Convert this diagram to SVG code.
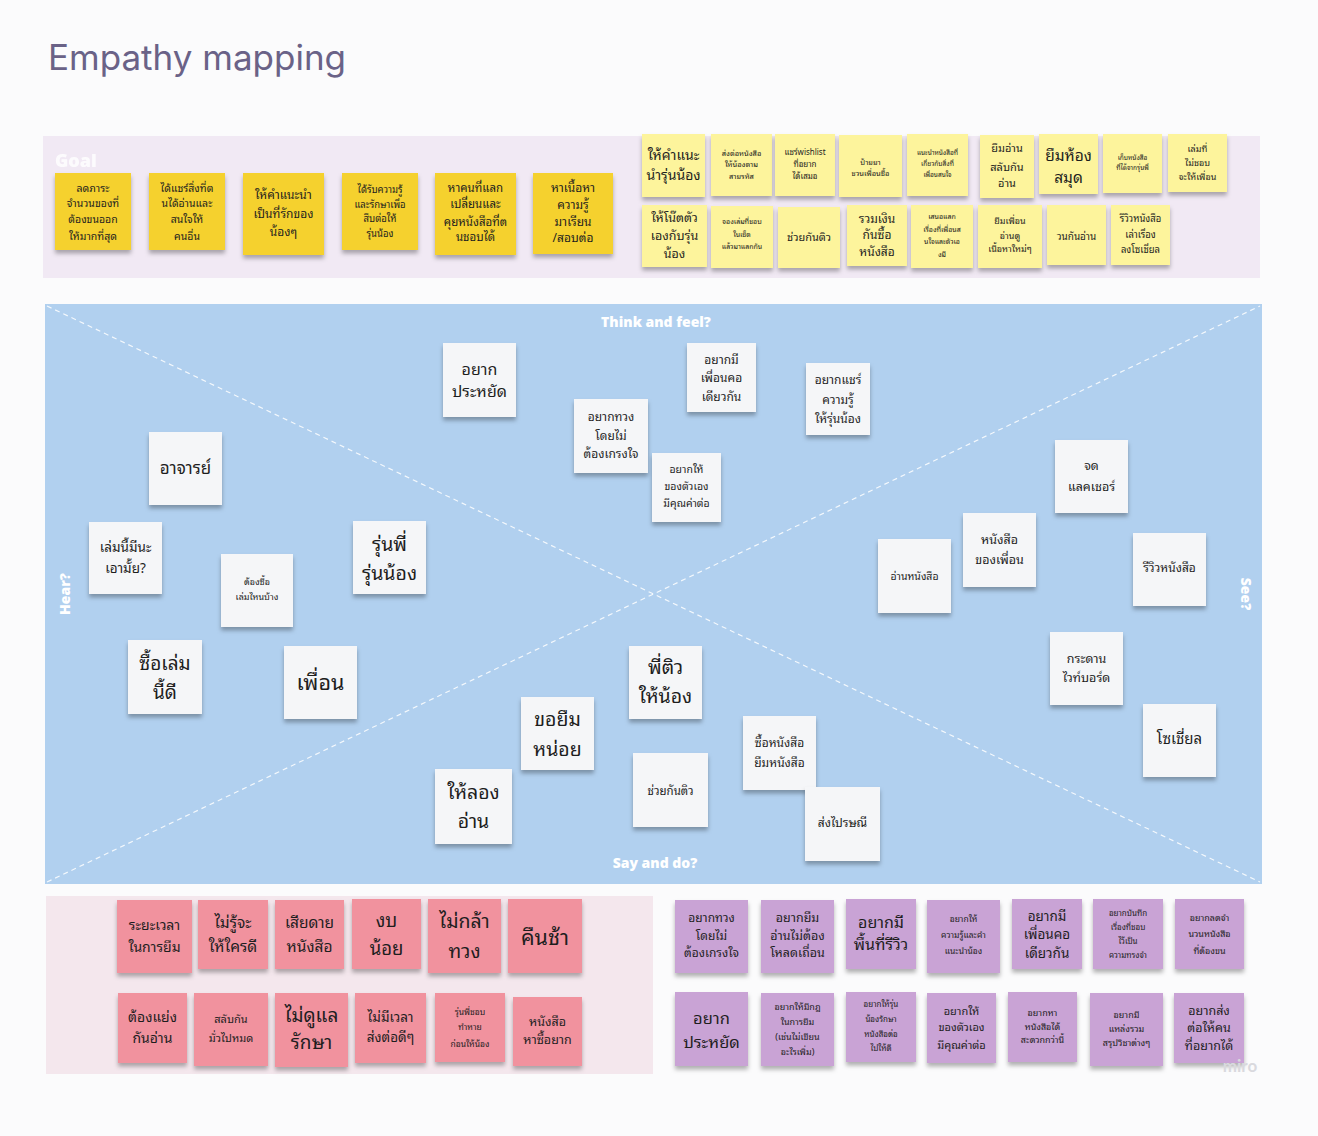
<svg xmlns="http://www.w3.org/2000/svg" width="1318" height="1136" viewBox="0 0 1318 1136">
<defs>
<filter id="sh" x="-20%" y="-20%" width="140%" height="150%">
<feDropShadow dx="0" dy="3.5" stdDeviation="2" flood-color="#000" flood-opacity="0.3"/>
</filter>
</defs>
<style>
text{font-family:"Noto Sans Thai Looped","Tahoma","Loma","Garuda","Waree","Noto Sans Thai","Noto Sans","DejaVu Sans",sans-serif;fill:#1e1e1e;text-anchor:middle}
.title{font-family:"Inter","Noto Sans",sans-serif;font-size:35px;fill:#6a6287;text-anchor:start}
.lbl{font-family:"Open Sans","Noto Sans",sans-serif;font-weight:800;fill:#ffffff;font-size:14px}
.gy{fill:#f5d12e;filter:url(#sh)}
.ly{fill:#fdf49c;filter:url(#sh)}
.wh{fill:#f5f6f8;filter:url(#sh)}
.pk{fill:#f1929e;filter:url(#sh)}
.pu{fill:#c9a3d5;filter:url(#sh)}
.dash{stroke:#ffffff;stroke-width:1.2;stroke-dasharray:5 4;fill:none;opacity:0.85}
</style>
<rect x="0" y="0" width="1318" height="1136" fill="#fbfbfc"/>
<text class="title" x="48" y="70">Empathy mapping</text>

<g id="goal-panel">
<rect x="43" y="136" width="1217" height="142" fill="#f1e9f4"/>
<text class="lbl" x="55" y="167" style="text-anchor:start;font-size:18px;opacity:0.85">Goal</text>
</g>

<g id="goal-1"><rect class="gy" x="55" y="173" width="76" height="77"/><text font-size="10.5"><tspan x="93" y="192">ลดภาระ</tspan><tspan x="93" y="207">จำนวนของที่</tspan><tspan x="93" y="223">ต้องขนออก</tspan><tspan x="93" y="240">ให้มากที่สุด</tspan></text></g>
<g id="goal-2"><rect class="gy" x="149" y="173" width="76" height="77"/><text font-size="10.5"><tspan x="187" y="192">ได้แชร์สิ่งที่ต</tspan><tspan x="187" y="207">นได้อ่านและ</tspan><tspan x="187" y="223">สนใจให้</tspan><tspan x="187" y="240">คนอื่น</tspan></text></g>
<g id="goal-3"><rect class="gy" x="243" y="173" width="81" height="82"/><text font-size="12"><tspan x="283.5" y="199">ให้คำแนะนำ</tspan><tspan x="283.5" y="218">เป็นที่รักของ</tspan><tspan x="283.5" y="236">น้องๆ</tspan></text></g>
<g id="goal-4"><rect class="gy" x="342" y="173" width="76" height="77"/><text font-size="9.5"><tspan x="380" y="193">ได้รับความรู้</tspan><tspan x="380" y="208">และรักษาเพื่อ</tspan><tspan x="380" y="222">สืบต่อให้</tspan><tspan x="380" y="237">รุ่นน้อง</tspan></text></g>
<g id="goal-5"><rect class="gy" x="435" y="173" width="81" height="82"/><text font-size="11.5"><tspan x="475.5" y="192">หาคนที่แลก</tspan><tspan x="475.5" y="208">เปลี่ยนและ</tspan><tspan x="475.5" y="226">คุยหนังสือที่ต</tspan><tspan x="475.5" y="241">นชอบได้</tspan></text></g>
<g id="goal-6"><rect class="gy" x="533" y="173" width="80" height="81"/><text font-size="12"><tspan x="573" y="192">หาเนื้อหา</tspan><tspan x="573" y="209">ความรู้</tspan><tspan x="573" y="226">มาเรียน</tspan><tspan x="573" y="242">/สอบต่อ</tspan></text></g>

<g id="idea-1"><rect class="ly" x="642" y="134" width="63" height="63"/><text font-size="14"><tspan x="673.5" y="160">ให้คำแนะ</tspan><tspan x="673.5" y="180">นำรุ่นน้อง</tspan></text></g>
<g id="idea-2"><rect class="ly" x="711" y="134" width="61" height="62"/><text font-size="7.5"><tspan x="741.5" y="156">ส่งต่อหนังสือ</tspan><tspan x="741.5" y="167">ให้น้องตาม</tspan><tspan x="741.5" y="179">สายรหัส</tspan></text></g>
<g id="idea-3"><rect class="ly" x="775" y="134" width="60" height="62"/><text font-size="8"><tspan x="805" y="155">แชร์wishlist</tspan><tspan x="805" y="167">ที่อยาก</tspan><tspan x="805" y="179">ได้เสมอ</tspan></text></g>
<g id="idea-4"><rect class="ly" x="839" y="135" width="63" height="62"/><text font-size="7.5"><tspan x="870.5" y="165">ป้ายยา</tspan><tspan x="870.5" y="176">ชวนเพื่อนซื้อ</tspan></text></g>
<g id="idea-5"><rect class="ly" x="907" y="134" width="61" height="62"/><text font-size="6.5"><tspan x="937.5" y="155">แนะนำหนังสือที่</tspan><tspan x="937.5" y="166">เกี่ยวกับสิ่งที่</tspan><tspan x="937.5" y="177">เพื่อนสนใจ</tspan></text></g>
<g id="idea-6"><rect class="ly" x="980" y="135" width="54" height="63"/><text font-size="11"><tspan x="1007" y="152">ยืมอ่าน</tspan><tspan x="1007" y="171">สลับกัน</tspan><tspan x="1007" y="187">อ่าน</tspan></text></g>
<g id="idea-7"><rect class="ly" x="1039" y="134" width="59" height="60"/><text font-size="15.5"><tspan x="1068.5" y="161">ยืมห้อง</tspan><tspan x="1068.5" y="183">สมุด</tspan></text></g>
<g id="idea-8"><rect class="ly" x="1103" y="134" width="59" height="59"/><text font-size="6.5"><tspan x="1132.5" y="160">เก็บหนังสือ</tspan><tspan x="1132.5" y="170">ที่ได้จากรุ่นพี่</tspan></text></g>
<g id="idea-9"><rect class="ly" x="1168" y="134" width="59" height="58"/><text font-size="9"><tspan x="1197.5" y="152">เล่มที่</tspan><tspan x="1197.5" y="166">ไม่ชอบ</tspan><tspan x="1197.5" y="180">จะให้เพื่อน</tspan></text></g>
<g id="idea-10"><rect class="ly" x="642" y="205" width="65" height="62"/><text font-size="12.5"><tspan x="674.5" y="222">ให้โน๊ตตัว</tspan><tspan x="674.5" y="240">เองกับรุ่น</tspan><tspan x="674.5" y="258">น้อง</tspan></text></g>
<g id="idea-11"><rect class="ly" x="711" y="206" width="62" height="62"/><text font-size="7"><tspan x="742" y="224">จองเล่มที่ชอบ</tspan><tspan x="742" y="236.5">ในเซ็ต</tspan><tspan x="742" y="249">แล้วมาแลกกัน</tspan></text></g>
<g id="idea-12"><rect class="ly" x="778" y="207" width="62" height="61"/><text font-size="11"><tspan x="809" y="241">ช่วยกันติว</tspan></text></g>
<g id="idea-13"><rect class="ly" x="847" y="205" width="60" height="61"/><text font-size="12"><tspan x="877" y="223">รวมเงิน</tspan><tspan x="877" y="239">กันซื้อ</tspan><tspan x="877" y="256">หนังสือ</tspan></text></g>
<g id="idea-14"><rect class="ly" x="911" y="205" width="62" height="63"/><text font-size="7"><tspan x="942" y="219">เสนอแลก</tspan><tspan x="942" y="232">เรื่องที่เพื่อนส</tspan><tspan x="942" y="244">นใจและตัวเอ</tspan><tspan x="942" y="257">งมี</tspan></text></g>
<g id="idea-15"><rect class="ly" x="978" y="205" width="64" height="63"/><text font-size="9"><tspan x="1010" y="224">ยืมเพื่อน</tspan><tspan x="1010" y="239">อ่านดู</tspan><tspan x="1010" y="252">เนื้อหาใหม่ๆ</tspan></text></g>
<g id="idea-16"><rect class="ly" x="1047" y="205" width="59" height="60"/><text font-size="10"><tspan x="1076.5" y="239.5">วนกันอ่าน</tspan></text></g>
<g id="idea-17"><rect class="ly" x="1111" y="205" width="59" height="60"/><text font-size="9.5"><tspan x="1140.5" y="222">รีวิวหนังสือ</tspan><tspan x="1140.5" y="238">เล่าเรื่อง</tspan><tspan x="1140.5" y="253">ลงโซเชี่ยล</tspan></text></g>

<g id="map-panel">
<rect x="45" y="304" width="1217" height="580" fill="#b1d0ef"/>
<line class="dash" x1="47" y1="306" x2="1260" y2="882"/>
<line class="dash" x1="47" y1="882" x2="1260" y2="306"/>
<text class="lbl" x="656" y="327">Think and feel?</text>
<text class="lbl" x="655" y="868">Say and do?</text>
<text class="lbl" transform="translate(70 594) rotate(-90)">Hear?</text>
<text class="lbl" transform="translate(1241 594) rotate(90)">See?</text>
</g>

<g id="think-1"><rect class="wh" x="443" y="343" width="73" height="74"/><text font-size="16"><tspan x="479.5" y="375">อยาก</tspan><tspan x="479.5" y="397">ประหยัด</tspan></text></g>
<g id="think-2"><rect class="wh" x="574" y="399" width="74" height="74"/><text font-size="12"><tspan x="611" y="421">อยากทวง</tspan><tspan x="611" y="440">โดยไม่</tspan><tspan x="611" y="458">ต้องเกรงใจ</tspan></text></g>
<g id="think-3"><rect class="wh" x="687" y="343" width="69" height="69"/><text font-size="12"><tspan x="721.5" y="364">อยากมี</tspan><tspan x="721.5" y="382">เพื่อนคอ</tspan><tspan x="721.5" y="401">เดียวกัน</tspan></text></g>
<g id="think-4"><rect class="wh" x="806" y="363" width="64" height="72"/><text font-size="12"><tspan x="838" y="384">อยากแชร์</tspan><tspan x="838" y="404">ความรู้</tspan><tspan x="838" y="423">ให้รุ่นน้อง</tspan></text></g>
<g id="think-5"><rect class="wh" x="652" y="453" width="69" height="69"/><text font-size="10.5"><tspan x="686.5" y="473">อยากให้</tspan><tspan x="686.5" y="490">ของตัวเอง</tspan><tspan x="686.5" y="507">มีคุณค่าต่อ</tspan></text></g>

<g id="hear-1"><rect class="wh" x="149" y="432" width="73" height="73"/><text font-size="17"><tspan x="185.5" y="474">อาจารย์</tspan></text></g>
<g id="hear-2"><rect class="wh" x="89" y="522" width="73" height="72"/><text font-size="13.5"><tspan x="125.5" y="552">เล่มนี้มีนะ</tspan><tspan x="125.5" y="573">เอามั้ย?</tspan></text></g>
<g id="hear-3"><rect class="wh" x="221" y="554" width="72" height="73"/><text font-size="9"><tspan x="257" y="585">ต้องซื้อ</tspan><tspan x="257" y="600">เล่มไหนบ้าง</tspan></text></g>
<g id="hear-4"><rect class="wh" x="353" y="521" width="73" height="73"/><text font-size="19.5"><tspan x="389.5" y="551">รุ่นพี่</tspan><tspan x="389.5" y="580">รุ่นน้อง</tspan></text></g>
<g id="hear-5"><rect class="wh" x="128" y="640" width="74" height="74"/><text font-size="19"><tspan x="165" y="670">ซื้อเล่ม</tspan><tspan x="165" y="699">นี้ดี</tspan></text></g>
<g id="hear-6"><rect class="wh" x="284" y="646" width="73" height="73"/><text font-size="21.5"><tspan x="320.5" y="690">เพื่อน</tspan></text></g>

<g id="see-1"><rect class="wh" x="1055" y="440" width="73" height="73"/><text font-size="12.5"><tspan x="1091.5" y="470">จด</tspan><tspan x="1091.5" y="491">แลคเชอร์</tspan></text></g>
<g id="see-2"><rect class="wh" x="963" y="513" width="73" height="74"/><text font-size="12.5"><tspan x="999.5" y="544">หนังสือ</tspan><tspan x="999.5" y="564">ของเพื่อน</tspan></text></g>
<g id="see-3"><rect class="wh" x="878" y="539" width="73" height="74"/><text font-size="10.5"><tspan x="914.5" y="580">อ่านหนังสือ</tspan></text></g>
<g id="see-4"><rect class="wh" x="1133" y="533" width="73" height="73"/><text font-size="12"><tspan x="1169.5" y="572">รีวิวหนังสือ</tspan></text></g>
<g id="see-5"><rect class="wh" x="1050" y="632" width="73" height="73"/><text font-size="12.5"><tspan x="1086.5" y="663">กระดาน</tspan><tspan x="1086.5" y="682">ไวท์บอร์ด</tspan></text></g>
<g id="see-6"><rect class="wh" x="1143" y="704" width="73" height="73"/><text font-size="15"><tspan x="1179.5" y="744">โซเชี่ยล</tspan></text></g>

<g id="say-1"><rect class="wh" x="629" y="646" width="73" height="73"/><text font-size="19.5"><tspan x="665.5" y="674">พี่ติว</tspan><tspan x="665.5" y="703">ให้น้อง</tspan></text></g>
<g id="say-2"><rect class="wh" x="521" y="697" width="73" height="73"/><text font-size="19.5"><tspan x="557.5" y="726">ขอยืม</tspan><tspan x="557.5" y="756">หน่อย</tspan></text></g>
<g id="say-3"><rect class="wh" x="435" y="769" width="77" height="75"/><text font-size="19.5"><tspan x="473.5" y="799">ให้ลอง</tspan><tspan x="473.5" y="828">อ่าน</tspan></text></g>
<g id="say-4"><rect class="wh" x="633" y="753" width="75" height="74"/><text font-size="11.5"><tspan x="670.5" y="795">ช่วยกันติว</tspan></text></g>
<g id="say-5"><rect class="wh" x="743" y="716" width="73" height="74"/><text font-size="12"><tspan x="779.5" y="747">ซื้อหนังสือ</tspan><tspan x="779.5" y="767">ยืมหนังสือ</tspan></text></g>
<g id="say-6"><rect class="wh" x="805" y="787" width="75" height="74"/><text font-size="12"><tspan x="842.5" y="827">ส่งไปรษณี</tspan></text></g>

<g id="pain-panel"><rect x="46" y="896" width="607" height="178" fill="#f4e7ed"/></g>

<g id="pain-1"><rect class="pk" x="117" y="900" width="75" height="73"/><text font-size="14"><tspan x="154.5" y="930">ระยะเวลา</tspan><tspan x="154.5" y="952">ในการยืม</tspan></text></g>
<g id="pain-2"><rect class="pk" x="198" y="900" width="70" height="69"/><text font-size="15.5"><tspan x="233" y="928">ไม่รู้จะ</tspan><tspan x="233" y="952">ให้ใครดี</tspan></text></g>
<g id="pain-3"><rect class="pk" x="275" y="900" width="69" height="69"/><text font-size="15.5"><tspan x="309.5" y="928">เสียดาย</tspan><tspan x="309.5" y="952">หนังสือ</tspan></text></g>
<g id="pain-4"><rect class="pk" x="352" y="899" width="69" height="70"/><text font-size="18.5"><tspan x="386.5" y="927">งบ</tspan><tspan x="386.5" y="955">น้อย</tspan></text></g>
<g id="pain-5"><rect class="pk" x="428" y="899" width="73" height="74"/><text font-size="19.5"><tspan x="464.5" y="928">ไม่กล้า</tspan><tspan x="464.5" y="958">ทวง</tspan></text></g>
<g id="pain-6"><rect class="pk" x="508" y="899" width="74" height="74"/><text font-size="21.5"><tspan x="545" y="945">คืนช้า</tspan></text></g>
<g id="pain-7"><rect class="pk" x="118" y="993" width="69" height="70"/><text font-size="14"><tspan x="152.5" y="1022">ต้องแย่ง</tspan><tspan x="152.5" y="1043">กันอ่าน</tspan></text></g>
<g id="pain-8"><rect class="pk" x="194" y="993" width="74" height="73"/><text font-size="11"><tspan x="231" y="1023">สลับกัน</tspan><tspan x="231" y="1042">มั่วไปหมด</tspan></text></g>
<g id="pain-9"><rect class="pk" x="275" y="993" width="73" height="74"/><text font-size="19"><tspan x="311.5" y="1022">ไม่ดูแล</tspan><tspan x="311.5" y="1049">รักษา</tspan></text></g>
<g id="pain-10"><rect class="pk" x="355" y="993" width="71" height="70"/><text font-size="13.5"><tspan x="390.5" y="1022">ไม่มีเวลา</tspan><tspan x="390.5" y="1042">ส่งต่อดีๆ</tspan></text></g>
<g id="pain-11"><rect class="pk" x="435" y="993" width="70" height="69"/><text font-size="8.5"><tspan x="470" y="1015">รุ่นพี่ชอบ</tspan><tspan x="470" y="1030">ทำหาย</tspan><tspan x="470" y="1047">ก่อนให้น้อง</tspan></text></g>
<g id="pain-12"><rect class="pk" x="513" y="997" width="69" height="69"/><text font-size="12.5"><tspan x="547.5" y="1026">หนังสือ</tspan><tspan x="547.5" y="1044">หาซื้อยาก</tspan></text></g>

<g id="gain-1"><rect class="pu" x="675" y="900" width="73" height="73"/><text font-size="12"><tspan x="711.5" y="922">อยากทวง</tspan><tspan x="711.5" y="940">โดยไม่</tspan><tspan x="711.5" y="957">ต้องเกรงใจ</tspan></text></g>
<g id="gain-2"><rect class="pu" x="761" y="900" width="73" height="73"/><text font-size="12.5"><tspan x="797.5" y="922">อยากยืม</tspan><tspan x="797.5" y="940">อ่านไม่ต้อง</tspan><tspan x="797.5" y="957">โหลดเถื่อน</tspan></text></g>
<g id="gain-3"><rect class="pu" x="846" y="899" width="70" height="70"/><text font-size="16"><tspan x="881" y="928">อยากมี</tspan><tspan x="881" y="950">พื้นที่รีวิว</tspan></text></g>
<g id="gain-4"><rect class="pu" x="927" y="900" width="73" height="73"/><text font-size="8.5"><tspan x="963.5" y="922">อยากให้</tspan><tspan x="963.5" y="938">ความรู้และคำ</tspan><tspan x="963.5" y="954">แนะนำน้อง</tspan></text></g>
<g id="gain-5"><rect class="pu" x="1012" y="899" width="70" height="70"/><text font-size="13.5"><tspan x="1047" y="921">อยากมี</tspan><tspan x="1047" y="939">เพื่อนคอ</tspan><tspan x="1047" y="958">เดียวกัน</tspan></text></g>
<g id="gain-6"><rect class="pu" x="1093" y="899" width="70" height="70"/><text font-size="8"><tspan x="1128" y="916">อยากบันทึก</tspan><tspan x="1128" y="930">เรื่องที่ชอบ</tspan><tspan x="1128" y="944">ไว้เป็น</tspan><tspan x="1128" y="958">ความทรงจำ</tspan></text></g>
<g id="gain-7"><rect class="pu" x="1175" y="899" width="69" height="70"/><text font-size="9"><tspan x="1209.5" y="921">อยากลดจำ</tspan><tspan x="1209.5" y="937">นวนหนังสือ</tspan><tspan x="1209.5" y="954">ที่ต้องขน</tspan></text></g>
<g id="gain-8"><rect class="pu" x="675" y="992" width="73" height="74"/><text font-size="16.5"><tspan x="711.5" y="1024">อยาก</tspan><tspan x="711.5" y="1048">ประหยัด</tspan></text></g>
<g id="gain-9"><rect class="pu" x="761" y="993" width="73" height="73"/><text font-size="9"><tspan x="797.5" y="1010">อยากให้มีกฎ</tspan><tspan x="797.5" y="1025">ในการยืม</tspan><tspan x="797.5" y="1040">(เช่นไม่เขียน</tspan><tspan x="797.5" y="1055">อะไรเพิ่ม)</tspan></text></g>
<g id="gain-10"><rect class="pu" x="846" y="992" width="70" height="70"/><text font-size="8"><tspan x="881" y="1007">อยากให้รุ่น</tspan><tspan x="881" y="1022">น้องรักษา</tspan><tspan x="881" y="1037">หนังสือต่อ</tspan><tspan x="881" y="1051">ไปให้ดี</tspan></text></g>
<g id="gain-11"><rect class="pu" x="927" y="993" width="69" height="70"/><text font-size="11"><tspan x="961.5" y="1015">อยากให้</tspan><tspan x="961.5" y="1031">ของตัวเอง</tspan><tspan x="961.5" y="1049">มีคุณค่าต่อ</tspan></text></g>
<g id="gain-12"><rect class="pu" x="1008" y="992" width="69" height="70"/><text font-size="9"><tspan x="1042.5" y="1016">อยากหา</tspan><tspan x="1042.5" y="1030">หนังสือได้</tspan><tspan x="1042.5" y="1043">สะดวกกว่านี้</tspan></text></g>
<g id="gain-13"><rect class="pu" x="1090" y="993" width="73" height="73"/><text font-size="9"><tspan x="1126.5" y="1018">อยากมี</tspan><tspan x="1126.5" y="1032">แหล่งรวม</tspan><tspan x="1126.5" y="1046">สรุปวิชาต่างๆ</tspan></text></g>
<g id="gain-14"><rect class="pu" x="1174" y="993" width="70" height="70"/><text font-size="12.5"><tspan x="1209" y="1015">อยากส่ง</tspan><tspan x="1209" y="1032">ต่อให้คน</tspan><tspan x="1209" y="1050">ที่อยากได้</tspan></text></g>

<text x="1240" y="1072" style="font-family:'Lato','Noto Sans',sans-serif;font-weight:700;font-size:17px;fill:#d9d9de">miro</text>
<g id="connectors"/>
</svg>
